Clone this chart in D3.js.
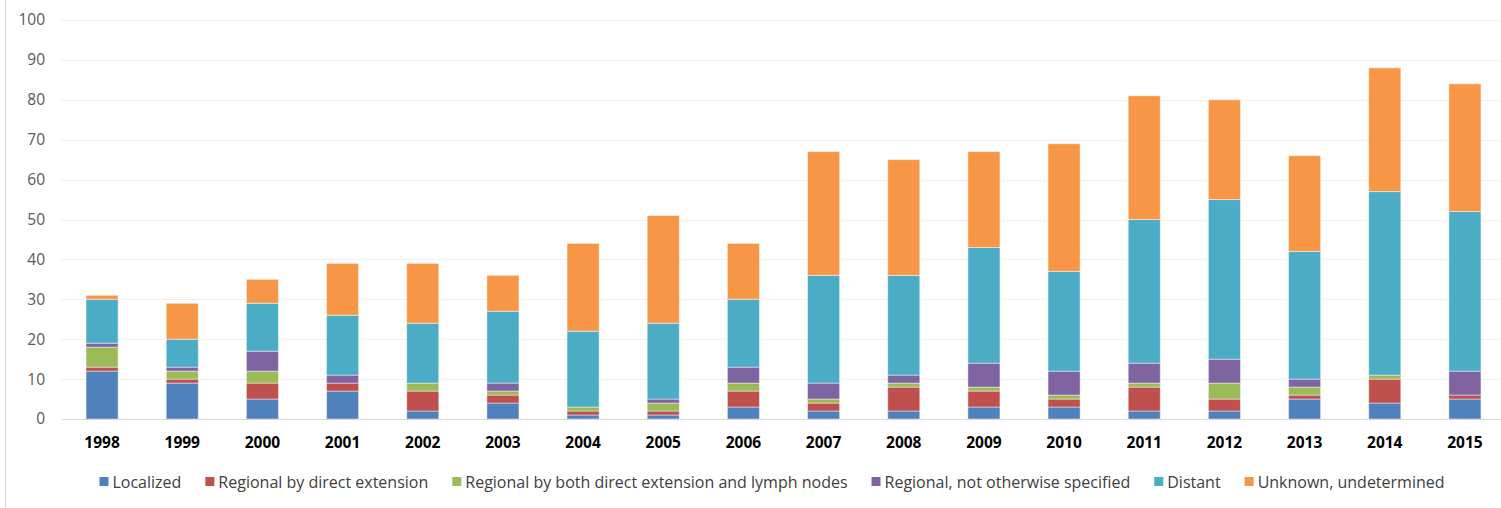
<!DOCTYPE html>
<html>
<head>
<meta charset="utf-8">
<script src="https://cdn.jsdelivr.net/npm/d3@7"></script>
<style>
  html, body { margin: 0; padding: 0; background: #fff; }
  svg { display: block; font-family: "Open Sans", sans-serif; }
</style>
</head>
<body>
<svg id="chart" width="1501" height="508"></svg>
<script>
// chart values
const years = ["1998", "1999", "2000", "2001", "2002", "2003", "2004", "2005", "2006",
  "2007", "2008", "2009", "2010", "2011", "2012", "2013", "2014", "2015"]

const seriesNames = [
  "Localized",
  "Regional by direct extension",
  "Regional by both direct extension and lymph nodes",
  "Regional, not otherwise specified",
  "Distant",
  "Unknown, undetermined"
]

const localized = [12, 9, 5, 7, 2, 4, 1, 1, 3, 2, 2, 3, 3, 2, 2, 5, 4, 5]
const directExt = [1, 1, 4, 2, 5, 2, 1, 1, 4, 2, 6, 4, 2, 6, 3, 1, 6, 1]
const bothExtNodes = [5, 2, 3, 0, 2, 1, 1, 2, 2, 1, 1, 1, 1, 1, 4, 2, 1, 0]
const regionalNos = [1, 1, 5, 2, 0, 2, 0, 1, 4, 4, 2, 6, 6, 5, 6, 2, 0, 6]
const distant = [11, 7, 12, 15, 15, 18, 19, 19, 17, 27, 25, 29, 25, 36, 40, 32, 46, 40]
const unknown = [1, 9, 6, 13, 15, 9, 22, 27, 14, 31, 29, 24, 32, 31, 25, 24, 31, 32]

const yTicks = [0, 10, 20, 30, 40, 50, 60, 70, 80, 90, 100]

const colors = ["#4f81bd", "#c0504d", "#9bbb59", "#8064a2", "#4bacc6", "#f79646"]

const allSeries = [localized, directExt, bothExtNodes, regionalNos, distant, unknown]

// rows for d3.stack
const rows = years.map((yr, i) => {
  let r = { year: yr }
  seriesNames.forEach((name, k) => { r[name] = allSeries[k][i] })
  return r
})

const svg = d3.select("#chart")

// left frame line
svg.append("line")
  .attr("x1", 5.5).attr("x2", 5.5)
  .attr("y1", 0).attr("y2", 508)
  .attr("stroke", "#d9d9d9")

const x = d3.scaleBand()
  .domain(years)
  .range([62, 1505])
  .paddingInner(0.6)
  .paddingOuter(0.3)

const y = d3.scaleLinear()
  .domain([0, 100])
  .range([419, 20])

// gridlines
svg.append("g")
  .selectAll("line")
  .data(yTicks.filter(d => d > 0))
  .enter()
  .append("line")
  .attr("x1", 62)
  .attr("x2", 1501)
  .attr("y1", d => Math.round(y(d)) + 0.5)
  .attr("y2", d => Math.round(y(d)) + 0.5)
  .attr("stroke", "#efefef")
  .attr("stroke-width", 1.2)

// y labels
svg.append("g")
  .selectAll("text")
  .data(yTicks)
  .enter()
  .append("text")
  .attr("x", 45)
  .attr("y", d => y(d))
  .attr("dy", "0.35em")
  .attr("text-anchor", "end")
  .attr("fill", "#595959")
  .style("font-size", "15.5px")
  .text(d => d)

const stack = d3.stack().keys(seriesNames)
const layers = stack(rows)

svg.append("g")
  .selectAll("g")
  .data(layers)
  .enter()
  .append("g")
  .attr("fill", (d, i) => colors[i])
  .selectAll("rect")
  .data(d => d.filter(p => p[1] > p[0]))
  .enter()
  .append("rect")
  .attr("x", d => x(d.data.year))
  .attr("width", x.bandwidth())
  .attr("y", d => y(d[1]))
  .attr("height", d => y(d[0]) - y(d[1]))
  .attr("stroke", "#ffffff")
  .attr("stroke-opacity", 0.45)
  .attr("stroke-width", 1)

// baseline axis
svg.append("line")
  .attr("x1", 62).attr("x2", 1501)
  .attr("y1", 419.5).attr("y2", 419.5)
  .attr("stroke", "#d9d9d9")
  .attr("stroke-width", 1.2)

// x labels
svg.append("g")
  .selectAll("text")
  .data(years)
  .enter()
  .append("text")
  .attr("x", d => x(d) + x.bandwidth() / 2)
  .attr("y", 448)
  .attr("text-anchor", "middle")
  .attr("fill", "#000")
  .style("font-size", "15.5px")
  .style("font-weight", "bold")
  .text(d => d)

// legend, laid out left to right then centred
const legend = svg.append("g")
let cx = 0
seriesNames.forEach((name, i) => {
  let item = legend.append("g").attr("transform", "translate(" + cx + ",0)")
  item.append("rect")
    .attr("x", 0).attr("y", -5)
    .attr("width", 9).attr("height", 9)
    .attr("fill", colors[i])
  let t = item.append("text")
    .attr("x", 13)
    .attr("y", 0)
    .attr("dy", "0.35em")
    .attr("fill", "#404040")
    .style("font-size", "16px")
    .text(name)
  cx += 13 + t.node().getComputedTextLength() + 24
})
const legendW = cx - 24
legend.attr("transform", "translate(" + (772 - legendW / 2) + ",482)")
</script>
</body>
</html>
